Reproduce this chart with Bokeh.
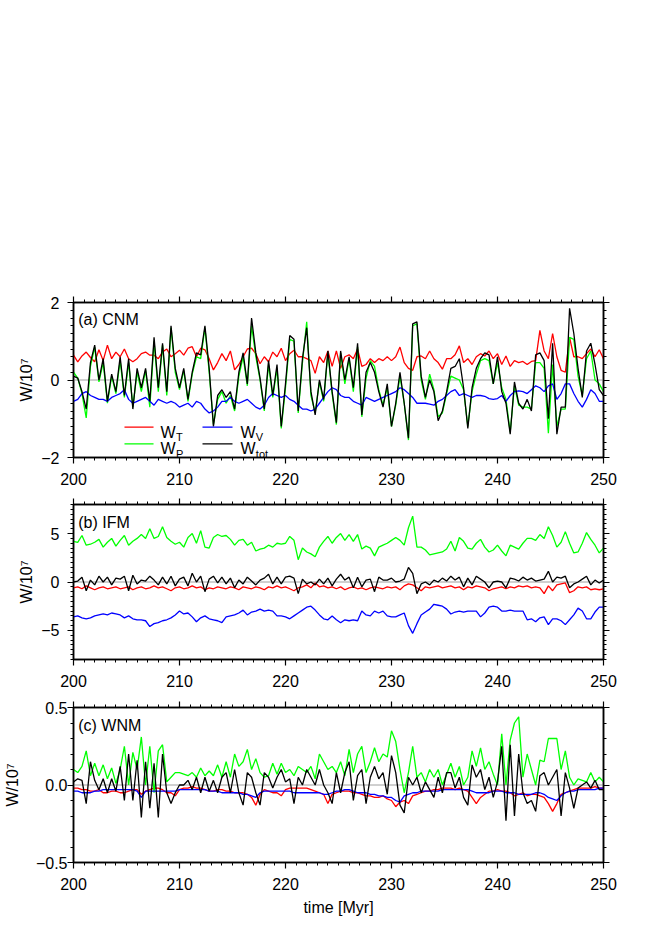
import numpy as np
from bokeh.plotting import figure
from bokeh.layouts import column
from bokeh.models import LinearAxis, FixedTicker, Span, Label, Range1d
from bokeh.embed import file_html
from bokeh.resources import INLINE

# ---------------- data (W / 1e7), sampled every 0.4 Myr ----------------
time_myr = np.round(200 + 0.4 * np.arange(126), 1)

cnm_T = [0.64,0.47,0.62,0.72,0.58,0.47,0.78,0.50,0.90,0.55,0.72,0.60,0.80,0.55,0.47,0.55,0.68,0.72,0.64,0.64,
         0.55,0.72,0.80,0.60,0.68,0.77,0.64,0.82,0.86,0.60,0.82,0.78,0.55,0.26,0.45,0.68,0.50,0.75,0.26,0.40,
         0.60,0.80,0.82,0.68,0.42,0.60,0.47,0.72,0.60,0.82,0.50,0.68,0.77,0.60,0.60,0.55,0.50,0.17,0.60,0.45,
         0.75,0.35,0.75,0.30,0.60,0.65,0.55,0.80,0.35,0.40,0.55,0.45,0.55,0.50,0.60,0.50,0.60,0.85,0.45,0.30,
         0.25,0.60,0.62,0.55,0.75,0.55,0.45,0.28,0.55,0.55,0.65,0.88,0.45,0.55,0.40,0.60,0.68,0.62,0.75,0.55,
         0.68,0.40,0.62,0.35,0.50,0.45,0.48,0.40,0.48,0.50,1.28,0.75,0.55,1.20,0.60,0.25,0.20,1.10,0.60,0.60,
         0.55,0.68,0.80,0.60,0.78,0.55]
cnm_P = [0.20,0.05,-0.35,-0.98,0.35,0.85,-0.05,0.45,-0.60,0.10,-0.35,0.50,-0.45,0.45,-0.70,0.20,-0.30,0.25,-0.70,1.00,
         -0.30,0.90,-0.40,1.35,0.20,-0.25,0.25,-0.55,0.15,0.60,0.55,1.35,0.20,-1.15,-0.50,-0.30,-0.60,-0.40,-0.80,0.10,
         0.60,-0.15,1.40,0.60,0.00,-0.80,0.40,-0.45,0.30,-1.25,-0.20,1.05,1.00,-0.85,0.45,1.50,-0.40,-0.85,-0.05,-0.55,
         0.70,-0.35,-1.15,0.70,-0.10,0.55,-0.30,0.85,-0.95,0.05,0.50,0.35,-0.25,-0.65,-0.20,-1.20,-0.65,0.10,-0.60,-1.55,
         1.40,1.45,0.00,-0.50,0.15,-0.25,-0.95,-0.85,-0.35,0.10,0.05,0.00,-0.25,-1.20,-0.30,0.15,0.50,0.55,0.50,-0.10,
         0.45,-0.20,-0.50,-1.35,-0.15,-0.65,-0.70,-0.70,-0.75,0.45,0.45,0.30,-1.37,0.40,-1.20,-0.75,-0.75,1.10,1.05,0.10,
         -0.40,0.55,0.75,0.00,-0.10,-0.30]
cnm_V = [-0.55,-0.50,-0.35,-0.30,-0.40,-0.45,-0.50,-0.50,-0.55,-0.45,-0.40,-0.35,-0.25,-0.50,-0.60,-0.55,-0.50,-0.45,-0.55,-0.65,
         -0.50,-0.55,-0.60,-0.55,-0.60,-0.70,-0.65,-0.60,-0.70,-0.55,-0.60,-0.75,-0.85,-0.80,-0.70,-0.55,-0.55,-0.45,-0.55,-0.60,
         -0.55,-0.50,-0.60,-0.70,-0.75,-0.65,-0.45,-0.35,-0.40,-0.45,-0.40,-0.50,-0.55,-0.65,-0.75,-0.75,-0.80,-0.75,-0.60,-0.45,
         -0.30,-0.20,-0.25,-0.40,-0.45,-0.45,-0.55,-0.60,-0.65,-0.45,-0.50,-0.55,-0.50,-0.45,-0.40,-0.35,-0.30,-0.20,-0.25,-0.35,
         -0.45,-0.60,-0.60,-0.60,-0.62,-0.65,-0.55,-0.50,-0.40,-0.30,-0.25,-0.40,-0.35,-0.40,-0.45,-0.40,-0.40,-0.42,-0.48,-0.50,
         -0.48,-0.40,-0.55,-0.40,-0.30,-0.28,-0.30,-0.35,-0.25,-0.15,-0.20,-0.30,-0.15,-0.10,-0.50,-0.35,-0.10,-0.10,-0.35,-0.55,
         -0.70,-0.50,-0.25,-0.35,-0.55,-0.55]
cnm_tot = [0.10,0.05,-0.30,-0.75,0.45,0.90,0.00,0.55,-0.55,0.15,-0.30,0.60,-0.40,0.55,-0.75,0.30,-0.20,0.30,-0.55,1.10,
           -0.20,0.95,-0.30,1.40,0.30,-0.20,0.30,-0.50,0.20,0.70,0.65,1.40,0.30,-1.20,-0.40,-0.25,-0.45,-0.30,-0.75,0.20,
           0.70,-0.10,1.60,0.70,0.05,-0.75,0.50,-0.40,0.40,-1.20,-0.10,1.15,1.05,-0.80,0.55,1.35,-0.30,-0.90,0.00,-0.50,
           0.75,-0.30,-1.10,0.75,0.00,0.60,-0.20,0.95,-0.90,0.20,0.45,0.20,-0.30,-0.70,-0.10,-1.20,-0.60,0.20,-0.60,-1.50,
           1.45,1.50,0.10,-0.45,0.00,-0.30,-1.05,-0.80,-0.30,0.30,0.35,0.55,-0.20,-1.25,-0.20,0.30,0.55,0.70,0.65,-0.10,
           0.60,-0.30,-0.60,-1.40,-0.05,-0.60,-0.75,-0.50,-0.80,0.65,0.70,0.50,-1.00,0.95,-1.40,-0.70,-0.70,1.85,1.20,0.30,
           -0.45,0.75,0.95,0.40,-0.25,-0.40]

ifm_T = [-0.6,-0.5,-0.7,-0.4,-0.6,-0.8,-0.6,-0.5,-0.7,-0.6,-0.5,-0.7,-0.6,-0.5,-0.8,-0.6,-0.5,-0.7,-0.6,-0.4,
         -0.6,-0.5,-0.7,-0.9,-0.6,-0.5,-0.7,-0.6,-0.4,-0.6,-0.5,-0.8,-0.6,-0.7,-0.5,-0.6,-0.7,-0.5,-0.6,-0.8,
         -0.5,-0.6,-0.7,-0.5,-0.6,-0.8,-0.5,-0.6,-0.4,-0.6,-0.5,-0.7,-0.9,-0.6,-0.5,-0.3,-0.6,-0.1,-0.5,-0.4,
         -0.6,-0.5,-0.7,-0.5,-0.8,-0.6,-0.5,-0.7,-0.6,-0.8,-0.6,-0.5,-0.6,-0.7,-0.5,-0.6,-0.5,-0.8,-0.4,-0.2,
         -0.3,-0.6,-0.9,-0.5,-0.6,-0.5,-0.4,-0.6,-0.5,-0.4,-0.6,-0.5,-0.8,-0.5,-0.6,-0.4,-0.5,-0.6,-0.9,-0.7,
         -0.6,-0.5,-0.7,-0.5,-0.6,-0.4,-0.5,-0.4,-0.6,-0.5,-0.6,-1.2,-0.4,-0.9,-0.3,-0.2,-0.1,-1.1,-0.9,-0.5,
         -0.6,-0.5,-0.8,-0.7,-0.8,-0.7]
ifm_P = [4.2,4.1,4.8,3.8,3.9,4.1,4.4,3.6,4.1,4.5,3.7,4.3,4.8,3.8,4.2,4.5,4.9,4.5,5.5,4.5,
         4.7,5.7,4.6,4.2,3.9,4.1,3.6,4.6,5.0,4.0,5.3,3.6,3.5,4.6,4.9,4.7,4.8,4.4,3.8,4.3,
         4.4,3.8,4.1,3.2,3.4,3.5,3.8,3.6,4.0,3.9,4.0,4.7,4.3,2.3,3.5,3.1,2.9,2.6,3.6,4.2,
         4.7,4.0,4.6,5.0,4.3,4.9,4.2,4.9,3.4,3.7,3.5,2.7,3.6,3.8,4.0,4.3,4.6,4.3,3.8,5.6,
         6.8,3.6,3.6,3.3,2.8,2.9,3.0,3.1,3.4,4.2,3.2,4.6,4.2,3.5,3.4,4.0,4.4,3.6,3.1,3.3,
         3.8,3.2,2.7,3.8,3.6,3.4,4.0,4.5,4.5,4.3,4.9,4.5,5.7,4.8,3.6,4.1,5.2,4.0,3.0,3.1,
         4.0,5.1,4.4,3.8,3.0,3.5]
ifm_V = [-3.6,-3.5,-3.7,-3.8,-3.7,-3.5,-3.4,-3.3,-3.4,-3.2,-3.3,-3.4,-3.7,-3.5,-3.8,-3.9,-3.9,-4.0,-4.6,-4.3,
         -4.2,-4.0,-3.9,-3.7,-3.4,-3.0,-3.3,-3.2,-3.6,-4.1,-3.7,-3.5,-3.8,-3.9,-4.0,-4.2,-3.6,-3.5,-3.4,-3.2,
         -2.9,-3.4,-3.1,-3.0,-2.8,-3.0,-2.9,-3.0,-3.5,-3.5,-3.6,-3.8,-3.5,-3.2,-2.9,-2.6,-2.5,-2.9,-3.4,-3.8,
         -3.9,-3.5,-3.9,-4.2,-3.9,-4.0,-3.9,-4.0,-3.0,-3.4,-3.5,-3.0,-3.2,-3.0,-3.5,-3.6,-3.6,-3.4,-3.2,-4.5,
         -5.3,-4.3,-3.4,-3.1,-2.8,-2.3,-2.4,-2.5,-2.8,-3.3,-3.1,-3.0,-3.1,-3.0,-3.0,-3.0,-3.6,-3.2,-2.6,-2.5,
         -2.6,-3.0,-3.0,-2.9,-3.0,-3.0,-3.0,-3.9,-3.8,-4.1,-3.7,-3.6,-4.4,-3.8,-3.8,-4.0,-4.4,-3.9,-3.4,-2.7,
         -3.0,-3.8,-3.8,-3.1,-2.6,-2.6]
ifm_tot = [0.0,0.1,0.5,-0.9,0.2,-0.3,0.6,0.0,0.5,-0.3,0.4,0.3,0.6,-0.9,0.7,-0.2,0.2,0.1,0.6,0.2,
           -0.3,0.5,-0.2,0.6,-0.4,0.3,0.5,-0.4,0.9,0.0,0.6,-1.0,0.3,0.6,-0.1,0.5,-0.2,0.4,-0.6,0.2,
           -0.2,0.5,0.1,-0.3,0.2,0.4,0.8,-0.2,0.5,-0.2,0.5,0.6,0.4,-1.2,0.3,-0.2,0.0,-0.3,0.3,-0.2,
           0.4,-0.4,0.3,0.8,0.2,0.5,-0.6,0.5,-0.5,0.2,0.3,-1.0,0.5,0.2,0.2,0.4,0.0,0.1,0.3,1.5,
           0.9,-1.2,-0.2,0.0,-0.3,0.2,0.0,0.4,0.1,0.6,0.2,0.5,-0.5,0.4,-0.3,0.6,0.3,0.0,-0.6,0.0,
           0.1,0.0,-0.6,0.4,0.3,0.1,0.5,0.2,0.4,0.1,0.2,0.3,1.1,0.0,0.5,0.4,0.6,-0.6,-0.2,0.0,
           0.3,0.6,-0.3,0.2,-0.1,0.2]

wnm_T = [-0.02,-0.02,-0.03,-0.03,-0.04,-0.04,-0.03,-0.05,-0.05,-0.04,-0.04,-0.05,-0.05,-0.04,-0.03,-0.03,-0.06,-0.04,-0.03,-0.02,
         -0.02,-0.03,-0.05,-0.05,-0.07,-0.03,-0.02,-0.02,-0.01,-0.02,-0.02,-0.03,-0.04,-0.04,-0.03,-0.03,-0.04,-0.04,-0.05,-0.05,
         -0.05,-0.06,-0.08,-0.13,-0.06,-0.03,-0.04,-0.05,-0.05,-0.07,-0.03,-0.02,-0.02,-0.02,-0.02,-0.02,-0.03,-0.04,-0.05,-0.06,
         -0.12,-0.06,-0.05,-0.04,-0.04,-0.04,-0.05,-0.05,-0.06,-0.07,-0.07,-0.08,-0.08,-0.07,-0.09,-0.10,-0.14,-0.11,-0.10,-0.12,
         -0.07,-0.06,-0.05,-0.04,-0.04,-0.03,-0.03,-0.02,-0.02,-0.02,-0.03,-0.02,-0.03,-0.04,-0.08,-0.12,-0.08,-0.06,-0.04,-0.04,
         -0.03,-0.04,-0.04,-0.05,-0.07,-0.06,-0.05,-0.07,-0.06,-0.06,-0.07,-0.08,-0.12,-0.17,-0.12,-0.06,-0.05,-0.04,-0.03,-0.02,
         -0.02,-0.02,-0.02,-0.01,-0.02,-0.02]
wnm_P = [0.10,0.08,0.12,0.22,0.06,0.14,0.06,0.13,0.04,0.11,0.01,0.10,0.25,0.00,0.21,0.10,0.31,0.00,0.25,-0.05,
         0.22,0.26,0.02,0.05,0.08,0.08,0.07,0.06,0.08,0.05,0.11,0.06,0.09,0.06,0.13,0.05,0.15,0.05,0.20,0.12,
         0.15,0.23,0.10,0.17,0.08,0.05,0.06,0.14,0.07,0.14,0.08,0.10,0.06,0.12,0.10,0.08,0.12,0.04,0.20,0.15,
         0.10,0.12,0.08,0.15,0.06,0.23,0.08,0.20,0.25,0.08,0.15,0.24,0.15,0.20,0.18,0.35,0.28,0.10,-0.05,0.08,
         0.25,0.05,0.08,0.02,0.10,0.05,0.10,0.00,0.07,0.14,0.05,0.12,0.00,0.05,0.22,0.12,0.24,0.10,0.15,0.07,
         0.00,0.33,0.00,0.29,0.40,0.44,0.05,0.20,0.10,0.00,0.16,0.15,0.30,0.30,0.30,0.10,0.22,0.05,0.00,0.04,
         0.03,0.02,0.08,0.02,0.05,0.02]
wnm_V = [-0.04,-0.04,-0.05,-0.05,-0.05,-0.04,-0.04,-0.03,-0.03,-0.03,-0.03,-0.03,-0.03,-0.03,-0.03,-0.04,-0.08,-0.04,-0.04,-0.04,
         -0.04,-0.04,-0.04,-0.04,-0.04,-0.03,-0.03,-0.03,-0.03,-0.03,-0.03,-0.03,-0.04,-0.04,-0.04,-0.05,-0.05,-0.05,-0.05,-0.05,
         -0.06,-0.06,-0.07,-0.08,-0.05,-0.04,-0.04,-0.04,-0.04,-0.04,-0.04,-0.04,-0.05,-0.05,-0.05,-0.05,-0.05,-0.05,-0.05,-0.06,
         -0.06,-0.05,-0.04,-0.04,-0.03,-0.03,-0.04,-0.05,-0.05,-0.05,-0.06,-0.06,-0.07,-0.07,-0.08,-0.08,-0.10,-0.11,-0.07,-0.06,
         -0.05,-0.05,-0.04,-0.04,-0.04,-0.04,-0.04,-0.03,-0.03,-0.03,-0.03,-0.03,-0.03,-0.03,-0.04,-0.05,-0.05,-0.05,-0.05,-0.04,
         -0.04,-0.04,-0.05,-0.05,-0.05,-0.06,-0.06,-0.06,-0.06,-0.05,-0.05,-0.06,-0.08,-0.09,-0.10,-0.07,-0.05,-0.04,-0.04,-0.03,
         -0.03,-0.03,-0.03,-0.03,-0.02,-0.02]
wnm_tot = [0.02,0.04,0.03,-0.12,0.15,0.03,-0.03,0.04,-0.05,0.04,-0.04,0.12,-0.10,0.20,-0.10,0.16,-0.21,0.15,-0.15,0.14,
           -0.21,0.20,-0.05,-0.12,-0.05,0.00,0.00,0.03,-0.03,0.05,-0.05,0.05,-0.04,0.03,-0.05,0.05,0.08,-0.05,0.10,-0.05,
           -0.13,0.08,0.05,-0.05,-0.13,0.08,0.05,-0.02,0.05,0.10,0.02,0.04,-0.12,0.05,0.00,0.10,0.05,0.00,0.10,0.00,
           -0.05,-0.12,0.08,-0.05,0.08,0.15,-0.10,0.06,0.10,-0.12,0.05,0.12,0.04,0.08,-0.06,0.19,0.08,-0.13,-0.18,0.05,
           0.00,0.05,-0.05,0.02,-0.03,-0.08,0.05,-0.05,0.08,0.08,-0.02,0.05,-0.08,-0.13,0.13,0.05,0.10,-0.03,0.05,-0.08,
           0.02,0.25,-0.23,0.26,-0.20,0.20,-0.05,-0.12,-0.10,-0.17,0.06,0.08,0.00,0.05,0.10,-0.20,0.08,-0.02,-0.15,-0.02,
           0.00,0.02,-0.02,0.03,-0.03,-0.03]

x_major = [200, 210, 220, 230, 240, 250]

FONT = "Liberation Sans"
C_T, C_P, C_V, C_TOT = "#ff0000", "#00ff00", "#0000ff", "#000000"


def style_axis(ax, ticker, show_labels):
    ax.ticker = ticker
    ax.axis_line_color = "black"
    ax.axis_line_width = 1.5
    ax.major_tick_line_color = "black"
    ax.major_tick_line_width = 1.2
    ax.minor_tick_line_color = "black"
    ax.minor_tick_line_width = 1
    ax.major_tick_in = 0
    ax.major_tick_out = 6
    ax.minor_tick_in = 0
    ax.minor_tick_out = 3
    if show_labels:
        ax.major_label_text_font = FONT
        ax.major_label_text_font_size = "16px"
        ax.major_label_text_color = "black"
    else:
        ax.major_label_text_font_size = "0px"
        ax.major_label_text_color = None
        ax.major_label_standoff = 0


def panel(ylim, ymajor, ystep, overrides, series, tag, tag_y, top, bottom,
          lab_standoff, axlab_standoff, xlabel=None):
    p = figure(frame_width=530, frame_height=155, x_range=Range1d(200, 250),
               y_range=Range1d(*ylim), output_backend="svg", toolbar_location=None,
               min_border_left=70, min_border_right=30, min_border_top=top,
               min_border_bottom=bottom)
    p.outline_line_color = "black"
    p.outline_line_width = 1.5
    p.grid.visible = False
    p.background_fill_color = "white"
    p.border_fill_color = "white"

    xt = FixedTicker(ticks=x_major, minor_ticks=list(range(200, 251)))
    yminor = list(np.round(np.arange(ylim[0], ylim[1] + ystep / 2, ystep), 3))
    yt = FixedTicker(ticks=ymajor, minor_ticks=yminor)

    style_axis(p.xaxis[0], xt, True)
    p.xaxis.major_label_standoff = 9
    style_axis(p.yaxis[0], yt, True)
    p.yaxis.major_label_overrides = overrides
    p.yaxis.major_label_standoff = lab_standoff
    p.yaxis.axis_label = "W/10\u2077"
    p.yaxis.axis_label_text_font = FONT
    p.yaxis.axis_label_text_font_size = "16px"
    p.yaxis.axis_label_text_font_style = "normal"
    p.yaxis.axis_label_text_color = "black"
    p.yaxis.axis_label_standoff = axlab_standoff
    if xlabel:
        p.xaxis.axis_label = xlabel
        p.xaxis.axis_label_text_font = FONT
        p.xaxis.axis_label_text_font_size = "16px"
        p.xaxis.axis_label_text_font_style = "normal"
        p.xaxis.axis_label_text_color = "black"
        p.xaxis.axis_label_standoff = 6

    top_ax = LinearAxis()
    style_axis(top_ax, FixedTicker(ticks=x_major, minor_ticks=list(range(200, 251))), False)
    p.add_layout(top_ax, "above")
    right_ax = LinearAxis()
    style_axis(right_ax, FixedTicker(ticks=ymajor, minor_ticks=yminor), False)
    p.add_layout(right_ax, "right")

    p.add_layout(Span(location=0, dimension="width", line_color="#a0a0a0",
                      line_width=1, level="underlay"))

    for ys, col in series:
        p.line(time_myr, ys, line_color=col, line_width=1.3)

    p.add_layout(Label(x=200.45, y=tag_y, text=tag, text_font=FONT, text_color="black",
                       text_font_size="16px", text_baseline="alphabetic"))
    return p


pa = panel((-2, 2), [-2, 0, 2], 0.2, {-2: "\u22122", 0: "0", 2: "2"},
           [(cnm_T, C_T), (cnm_P, C_P), (cnm_V, C_V), (cnm_tot, C_TOT)],
           "(a) CNM", 1.56, 302, 35, 8, 3)
pb = panel((-8, 8), [-5, 0, 5], 0.5, {-5: "\u22125", 0: "0", 5: "5"},
           [(ifm_T, C_T), (ifm_P, C_P), (ifm_V, C_V), (ifm_tot, C_TOT)],
           "(b) IFM", 6.17, 12, 35, 8, 3)
pc = panel((-0.5, 0.5), [-0.5, 0, 0.5], 0.1, {-0.5: "\u22120.5", 0: "0.0", 0.5: "0.5"},
           [(wnm_T, C_T), (wnm_P, C_P), (wnm_V, C_V), (wnm_tot, C_TOT)],
           "(c) WNM", 0.384, 13, 58, 0, 12, xlabel="time [Myr]")

# ---------------- legend in panel (a), drawn by hand for subscripts ----------------
leg_rows = [-1.218, -1.646]
leg_cols = [(204.81, 207.55, 208.21), (212.17, 215.0, 215.75)]
leg_items = [[("T", C_T), ("V", C_V)], [("P", C_P), ("tot", C_TOT)]]
for r, yrow in enumerate(leg_rows):
    for c, (x0, x1, xw) in enumerate(leg_cols):
        sub, col = leg_items[r][c]
        pa.line([x0, x1], [yrow, yrow], line_color=col, line_width=1.3)
        pa.add_layout(Label(x=xw, y=yrow - 0.13, text="W", text_font=FONT, text_color="black",
                            text_font_size="16px", text_baseline="alphabetic"))
        pa.add_layout(Label(x=xw + 1.45, y=yrow - 0.265, text=sub, text_font=FONT,
                            text_color="black", text_font_size="11px",
                            text_baseline="alphabetic"))

layout = column(pa, pb, pc)
open("out.html", "w").write(file_html(layout, INLINE))
